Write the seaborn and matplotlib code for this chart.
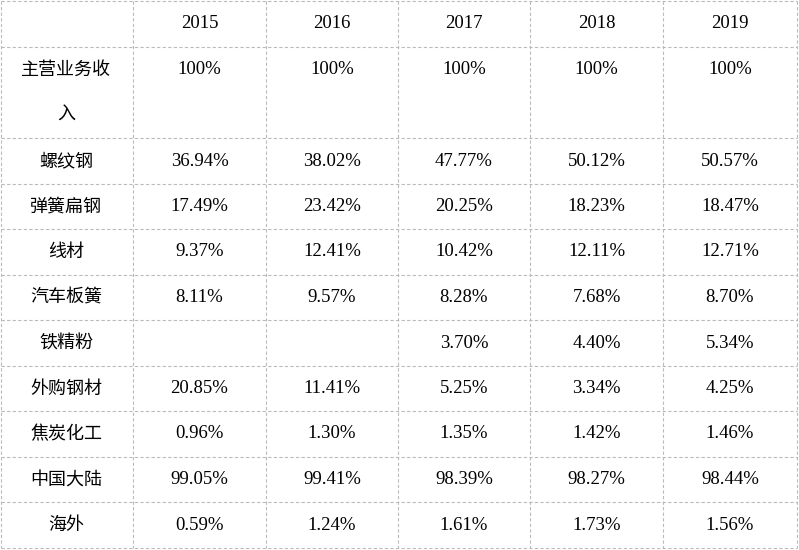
import matplotlib
matplotlib.use("Agg")
import matplotlib.pyplot as plt
import seaborn as sns

sns.set_theme(style="white")

years = ["2015", "2016", "2017", "2018", "2019"]
categories = ["主营业务收\n入", "螺纹钢", "弹簧扁钢", "线材", "汽车板簧", "铁精粉", "外购钢材", "焦炭化工", "中国大陆", "海外"]
v2015 = ["100%", "36.94%", "17.49%", "9.37%", "8.11%", "", "20.85%", "0.96%", "99.05%", "0.59%"]
v2016 = ["100%", "38.02%", "23.42%", "12.41%", "9.57%", "", "11.41%", "1.30%", "99.41%", "1.24%"]
v2017 = ["100%", "47.77%", "20.25%", "10.42%", "8.28%", "3.70%", "5.25%", "1.35%", "98.39%", "1.61%"]
v2018 = ["100%", "50.12%", "18.23%", "12.11%", "7.68%", "4.40%", "3.34%", "1.42%", "98.27%", "1.73%"]
v2019 = ["100%", "50.57%", "18.47%", "12.71%", "8.70%", "5.34%", "4.25%", "1.46%", "98.44%", "1.56%"]
cols = [v2015, v2016, v2017, v2018, v2019]

W, H = 799, 550
fig = plt.figure(figsize=(W/100, H/100), dpi=100)
ax = fig.add_axes([0, 0, 1, 1])
ax.set_xlim(0, W); ax.set_ylim(H, 0); ax.axis("off")

xs = [1, 133, 266, 398, 530, 663, 797]
ys = [1, 47, 138, 184, 229, 275, 320, 366, 411, 457, 502, 548]
lc = "#bbbbbb"
for x in xs:
    ax.plot([x, x], [ys[0], ys[-1]], color=lc, lw=0.8, ls=(0, (3, 2)))
for y in ys:
    ax.plot([xs[0], xs[-1]], [y, y], color=lc, lw=0.8, ls=(0, (3, 2)))

serif = "Liberation Serif"
cjk = "Noto Sans CJK SC"
fs = 13.5
tc = "black"
for j, yr in enumerate(years):
    ax.text((xs[j+1]+xs[j+2])/2, 24, yr, ha="center", va="center", fontsize=fs, family=serif, color=tc)

for i, cat in enumerate(categories):
    if i == 0:
        ax.text(66, 70, "主营业务收", ha="center", va="center", fontsize=13, family=cjk, color=tc)
        ax.text(66, 115, "入", ha="center", va="center", fontsize=13, family=cjk, color=tc)
        yc = 70
    else:
        yc = (ys[i+1]+ys[i+2])/2
        ax.text(66, yc, cat, ha="center", va="center", fontsize=13, family=cjk, color=tc)
    for j, c in enumerate(cols):
        if c[i]:
            ax.text((xs[j+1]+xs[j+2])/2, yc, c[i], ha="center", va="center", fontsize=fs, family=serif, color=tc)

fig.savefig("out.png", dpi=100, facecolor="white")
